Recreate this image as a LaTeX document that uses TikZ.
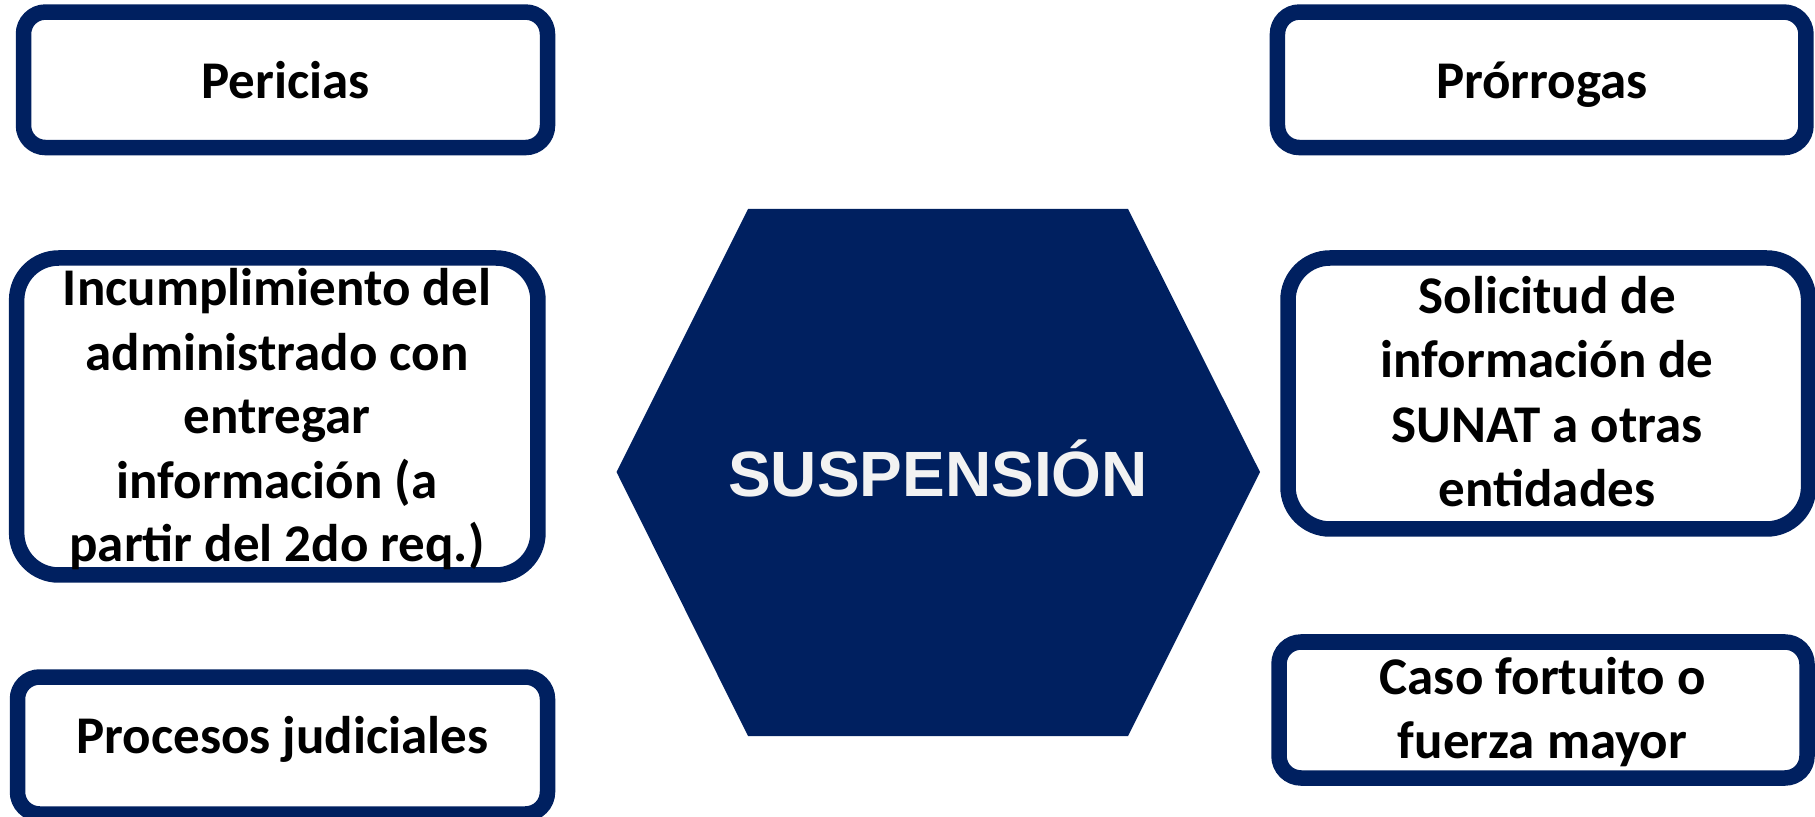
\documentclass[tikz,border=0pt]{standalone}
\usepackage{fontspec}
\setmainfont{Carlito}
\newfontfamily\hexfont{Liberation Sans}
\definecolor{navy}{HTML}{002060}
\definecolor{hextext}{HTML}{F2F2F2}
\begin{document}
\begin{tikzpicture}[x=0.5pt,y=-0.5pt,
  box/.style={draw=navy, line width=7.75pt, fill=white, rectangle, inner sep=0pt},
  smallbox/.style={box, rounded corners=11pt},
  bigbox/.style={box, rounded corners=21pt},
  lbl/.style={font=\fontsize{26.5}{32}\selectfont\bfseries, align=center, inner sep=0pt, text=black, anchor=base},
  hexlbl/.style={font=\hexfont\fontsize{32}{38}\selectfont\bfseries, text=hextext, inner sep=0pt, anchor=base}
]
\useasboundingbox (0,0) rectangle (1815,817);
% boxes
\node[smallbox, minimum width=262pt, minimum height=67.75pt] (per) at (285.5,79.8) {};
\node[bigbox, minimum width=260.65pt, minimum height=158.5pt] (inc) at (277.3,416.5) {};
\node[smallbox, minimum width=265pt, minimum height=68.5pt] (pro) at (282.5,745.5) {};
\node[smallbox, minimum width=264.25pt, minimum height=67.75pt] (pror) at (1541.7,79.8) {};
\node[bigbox, minimum width=260.3pt, minimum height=135.5pt] (sol) at (1548.3,393.5) {};
\node[smallbox, minimum width=264pt, minimum height=68pt] (caso) at (1543,710) {};
% labels (base anchor = last line baseline)
\node[lbl] (per-t) at (285.5,98.3) {Pericias};
\node[lbl] (inc-t) at (277,562) {Incumplimiento del\\administrado con\\entregar\\información (a\\partir del 2do req.)};
\node[lbl] (pro-t) at (282.5,753.3) {Procesos judiciales};
\node[lbl] (pror-t) at (1542,98.3) {Prórrogas};
\node[lbl, font=\fontsize{26.5}{32.3}\selectfont\bfseries] (sol-t) at (1547,507) {Solicitud de\\información de\\SUNAT a otras\\entidades};
\node[lbl] (caso-t) at (1542.6,758) {Caso fortuito o\\fuerza mayor};
% hexagon
\fill[navy] (748,209) -- (1128,209) -- (1260,472) -- (1128,736) -- (748,736) -- (616.5,472) -- cycle;
\node[hexlbl] (hex-t) at (938,497) {SUSPENSIÓN};
\end{tikzpicture}
\end{document}
